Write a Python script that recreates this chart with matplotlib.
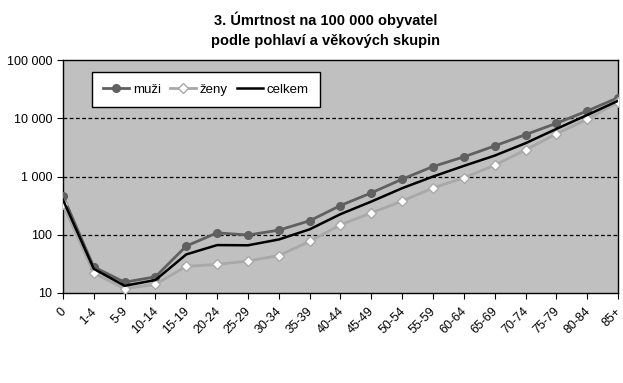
import numpy as np
import matplotlib.pyplot as plt
import matplotlib.transforms as mtransforms
from matplotlib.ticker import FixedLocator, NullLocator

plt.rcParams['font.family'] = ['Liberation Sans', 'DejaVu Sans']

# vekove skupiny
skupiny = ["0", "1-4", "5-9", "10-14", "15-19", "20-24", "25-29", "30-34", "35-39",
           "40-44", "45-49", "50-54", "55-59", "60-64", "65-69", "70-74", "75-79",
           "80-84", "85+"]

# umrtnost na 100 000 obyvatel (odhad z grafu)
muzi = [467, 28, 15.3, 19, 64, 108, 99, 120, 174, 318, 525, 902, 1486, 2178, 3360,
        5250, 8220, 13400, 22600]
zeny = [332, 22, 11.9, 14.1, 28.7, 31, 35.4, 44, 77, 148, 238, 378, 640, 950, 1566,
        2870, 5400, 9640, 18900]
celkem = [400, 26, 13.3, 16.7, 46, 66.5, 66, 83, 124, 226, 372, 631, 1000, 1525, 2290,
          3740, 6580, 11400, 20000]

osa_y = [10, 100, 1000, 10000, 100000]
osa_y_text = ["10", "100", "1 000", "10 000", "100 000"]

fig = plt.figure(figsize=(6.23, 3.83), dpi=100)
ax = fig.add_axes([0.101, 0.235, 0.891, 0.608])
ax.set_facecolor("#C0C0C0")

x = np.arange(len(skupiny))
ax.plot(x, muzi, color="#606060", lw=2, marker="o", ms=5.5,
        mfc="#606060", mec="#606060", label="muži", zorder=3)
ax.plot(x, zeny, color="#A8A8A8", lw=2, marker="D", ms=5,
        mfc="white", mec="#A8A8A8", mew=1, label="ženy", zorder=3)
ax.plot(x, celkem, color="black", lw=1.8, label="celkem", zorder=4)

ax.set_yscale("log")
ax.set_ylim(10, 100000)
ax.yaxis.set_major_locator(FixedLocator(osa_y))
ax.yaxis.set_minor_locator(NullLocator())
ax.set_yticklabels(osa_y_text)
ax.set_xlim(0, len(skupiny) - 1)
ax.set_xticks(x)
ax.set_xticklabels(skupiny, rotation=45, ha="right", va="top", rotation_mode="anchor")
ax.tick_params(axis="both", labelsize=9, direction="out", length=4, color="black")
ax.tick_params(axis="x", pad=5)

# posun popisku osy x trochu doleva
posun = mtransforms.ScaledTranslation(-3 / 100, 0, fig.dpi_scale_trans)
for lbl in ax.get_xticklabels():
    lbl.set_transform(lbl.get_transform() + posun)

for v in osa_y[1:-1]:
    ax.axhline(v, color="black", lw=0.9, ls=(0, (3, 2)), zorder=1)

for s in ax.spines.values():
    s.set_color("black")
    s.set_linewidth(1)

leg = ax.legend(loc="upper left", ncol=3, bbox_to_anchor=(0.052, 0.948),
                frameon=True, fancybox=False, fontsize=9.5, handlelength=2.0,
                columnspacing=0.7, handletextpad=0.25, borderpad=0.85,
                borderaxespad=0)
leg.get_frame().set_edgecolor("black")
leg.get_frame().set_facecolor("white")
leg.get_frame().set_alpha(1)
leg.get_frame().set_linewidth(1)

fig.text(0.523, 0.948, "3. Úmrtnost na 100 000 obyvatel", ha="center", va="center",
         fontsize=10.5, fontweight="bold")
fig.text(0.523, 0.893, "podle pohlaví a věkových skupin", ha="center", va="center",
         fontsize=10.5, fontweight="bold")

fig.savefig("out.png", dpi=100)
